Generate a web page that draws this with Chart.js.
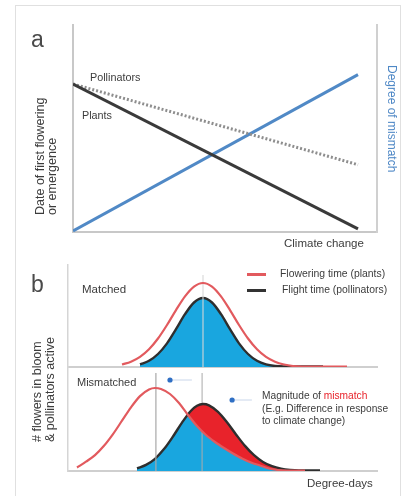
<!DOCTYPE html>
<html><head><meta charset="utf-8">
<script src="https://cdn.jsdelivr.net/npm/chart.js@4.4.0/dist/chart.umd.min.js"></script>
<style>
html,body{margin:0;padding:0;background:#fff;}
#wrap{position:relative;width:405px;height:496px;overflow:hidden;font-family:"Liberation Sans",Arial,sans-serif;color:#3c3c3c;}
#frame{position:absolute;left:15px;top:5px;width:386px;height:500px;border:1px solid #e0e0e0;box-sizing:border-box;}
canvas{position:absolute;left:0;}
.t{position:absolute;white-space:nowrap;}
.rot{position:absolute;white-space:nowrap;transform-origin:0 0;}
.leg{position:absolute;height:3px;width:19px;}
</style></head><body>
<div id="wrap">
<div id="frame"></div>
<canvas id="ca" width="405" height="250" style="top:0"></canvas>
<canvas id="cb1" width="405" height="115" style="top:255px"></canvas>
<canvas id="cb2" width="405" height="136" style="top:360px"></canvas>
<div class="leg" style="left:247px;top:273px;background:#e25a5e"></div>
<div class="leg" style="left:247px;top:289px;background:#333"></div>
<div class="rot" style="left:34px;top:215px;font-size:12.5px;line-height:12px;transform:rotate(-90deg)">Date of first flowering<br>or emergence</div>
<div class="rot" style="left:398px;top:65px;font-size:12px;line-height:12px;color:#4f88c6;transform:rotate(90deg)">Degree of mismatch</div>
<div class="rot" style="left:31px;top:442px;font-size:12.5px;line-height:13px;transform:rotate(-90deg)"># flowers in bloom<br>&amp; pollinators active</div>
</div>
<script>
// ---- Panel a: phenology vs climate change ----
const climateX = [0, 15];
const plantsDate = [71.5, 1.5];
const pollinatorsDate = [71.5, 32.5];
const mismatchDegree = [0.5, 76];

// ---- Panel b (matched) ----
const matchedRedX = [18,21,24,27,30,33,36,39,42,45,48,51,54,57,60,63,66,69,72,75,78,93];
const matchedRedY = [2.5,5.3,10.1,17.7,28.5,42.0,56.9,70.6,80.4,84,80.4,70.6,56.9,42.0,28.5,17.7,10.1,5.3,2.5,1.0,0.5,0.5];
const matchedBlackX = [24,27,30,33,36,39,42,45,48,51,54,57,60,63,66,69,72,85];
const matchedBlackY = [2.6,6.2,13.0,23.6,37.8,52.8,64.5,69,64.5,52.8,37.8,23.6,13.0,6.2,2.6,1.0,0.5,0.5];
const matchedPeakX = [45];
const matchedGuideTop = 92;

// ---- Panel b (mismatched) ----
const mismatchRedX = [3,6,9,12,15,18,21,24,27,29,31,34,37,40,43,46,49,52,55,58,61,64,67,70,73,79];
const mismatchRedY = [3.5,9.3,15.9,25.2,36.9,50.3,63.7,74.9,81.6,83,82,77,68,56,45,36,29,23,17.5,12.5,8.5,5.5,2.5,1.0,0.5,0.5];
const mismatchBlackX = [23,26,29,32,35,38,41,43,45,47,50,53,56,59,62,65,68,71,74,77,84];
const mismatchBlackY = [2.7,6.1,12.2,21.9,34.5,48.4,60.3,65.2,67,65.7,59.1,48.7,36.6,25.1,15.8,9.1,4.8,2.3,1.0,0.5,0.5];
const mismatchPeakX = [29.3, 44.7];
const mismatchGuideTop = 98;
const shiftArrowX = [34, 41.3];
const shiftArrowY = 91;
const magnitudeArrowX = [54.7, 61.3];
const magnitudeArrowY = 71;

// ---- labels ----
const texts = [
  ['a', 31, 47, 23, '#4a4a4a'],
  ['b', 31, 292, 23, '#4a4a4a'],
  ['Pollinators', 90, 81, 10.8],
  ['Plants', 82, 119, 10.8],
  ['Climate change', 284, 247.5, 11.5],
  ['Matched', 82, 294, 11.5],
  ['Mismatched', 77, 386, 11],
  ['Flowering time (plants)', 280, 277.5, 10.4],
  ['Flight time (pollinators)', 282, 294, 10.4],
  ['(E.g. Difference in response', 262, 412.5, 10.2],
  ['to climate change)', 262, 425, 10.2],
  ['Degree-days', 307, 488, 11.5]
];

const wrap = document.getElementById('wrap');
function addText(str, x, base, size, color, html) {
  const d = document.createElement('div');
  d.className = 't';
  d.style.left = x + 'px';
  d.style.fontSize = size + 'px';
  d.style.lineHeight = size + 'px';
  d.style.top = (base - 0.8465 * size) + 'px';
  if (color) d.style.color = color;
  if (html) d.innerHTML = html; else d.textContent = str;
  wrap.appendChild(d);
}
texts.forEach(t => addText(t[0], t[1], t[2], t[3], t[4]));
addText('', 262, 400, 10.2, null, 'Magnitude of <span style="color:#e8232b">mismatch</span>');

const pts = (xs, ys) => xs.map((x, i) => ({x, y: ys[i]}));
const vline = (x, top) => [{x, y: 0}, {x, y: top}];

function scale(opts, border) {
  return Object.assign({
    type: 'linear', display: true,
    grid: {display: false, drawTicks: false},
    ticks: {display: false},
    border: border ? {display: true, color: border.color, width: border.width} : {display: false}
  }, opts);
}
const common = {
  responsive: false, animation: false,
  plugins: {legend: {display: false}, tooltip: {enabled: false}},
  elements: {point: {radius: 0}, line: {borderCapStyle: 'butt'}}
};

const RED_LINE = '#e25a5e', BLACK_LINE = '#2e2e2e', BLUE_FILL = '#19a6df', RED_FILL = '#e8232b';

new Chart(document.getElementById('ca'), {
  type: 'line',
  data: {datasets: [
    {data: pts(climateX, plantsDate), borderColor: '#3a3a3a', borderWidth: 3, yAxisID: 'y'},
    {data: pts(climateX, pollinatorsDate), borderColor: '#8e8e8e', borderWidth: 3, borderDash: [2, 2], yAxisID: 'y'},
    {data: pts(climateX, mismatchDegree), borderColor: '#5089c6', borderWidth: 3, yAxisID: 'y2'}
  ]},
  options: Object.assign({}, common, {
    layout: {padding: {left: 73, right: 28, top: 25, bottom: 18}},
    scales: {
      x: scale({min: 0, max: 16, position: 'bottom'}, {color: '#c8c8c8', width: 2}),
      y: scale({min: 0, max: 100, position: 'left'}, {color: '#c8c8c8', width: 2}),
      y2: scale({min: 0, max: 100, position: 'right'}, {color: '#d0d0d0', width: 2})
    }
  })
});

new Chart(document.getElementById('cb1'), {
  type: 'line',
  data: {datasets: [
    {data: pts(matchedRedX, matchedRedY), borderColor: RED_LINE, borderWidth: 2.2, cubicInterpolationMode: 'monotone', fill: false, order: 0},
    {data: pts(matchedBlackX, matchedBlackY), borderColor: BLACK_LINE, borderWidth: 2.4, cubicInterpolationMode: 'monotone', fill: 'origin', backgroundColor: BLUE_FILL, order: 2},
    {data: vline(matchedPeakX[0], matchedGuideTop), borderColor: 'rgba(215,215,215,0.9)', borderWidth: 1.2, fill: false, order: 1}
  ]},
  options: Object.assign({}, common, {
    layout: {padding: {left: 68, right: 28, top: 10, bottom: 3}},
    scales: {
      x: scale({min: 0, max: 103, position: 'bottom'}, {color: '#cfcfcf', width: 2}),
      y: scale({min: 0, max: 102, position: 'left'}, {color: '#d5d5d5', width: 1.5})
    }
  })
});

new Chart(document.getElementById('cb2'), {
  type: 'line',
  data: {datasets: [
    {data: pts(mismatchRedX, mismatchRedY), borderColor: RED_LINE, borderWidth: 2.2, cubicInterpolationMode: 'monotone', fill: false, order: 0},
    {data: pts(mismatchBlackX, mismatchBlackY), borderColor: BLACK_LINE, borderWidth: 2.4, cubicInterpolationMode: 'monotone',
      fill: {target: 0, above: RED_FILL, below: 'rgba(0,0,0,0)'}, order: 3},
    {data: pts(mismatchBlackX, mismatchBlackY), borderWidth: 0, borderColor: 'rgba(0,0,0,0)', cubicInterpolationMode: 'monotone', fill: 'origin', backgroundColor: BLUE_FILL, order: 5},
    {data: vline(mismatchPeakX[0], mismatchGuideTop), borderColor: '#a8a8a8', borderWidth: 1.2, fill: false, order: 1},
    {data: vline(mismatchPeakX[1], mismatchGuideTop), borderColor: 'rgba(170,170,170,0.85)', borderWidth: 1.2, fill: false, order: 4},
    {data: pts(shiftArrowX, [shiftArrowY, shiftArrowY]), borderColor: '#c9d6ea', borderWidth: 1, pointRadius: [2.6, 0], pointBackgroundColor: '#2f6fc4', pointBorderWidth: 0, fill: false, order: 0},
    {data: pts(magnitudeArrowX, [magnitudeArrowY, magnitudeArrowY]), borderColor: '#c9d6ea', borderWidth: 1, pointRadius: [2.6, 0], pointBackgroundColor: '#2f6fc4', pointBorderWidth: 0, fill: false, order: 0}
  ]},
  options: Object.assign({}, common, {
    layout: {padding: {left: 68, right: 28, top: 7, bottom: 25}},
    scales: {
      x: scale({min: 0, max: 103, position: 'bottom'}, {color: '#cfcfcf', width: 2}),
      y: scale({min: 0, max: 104, position: 'left'}, {color: '#d5d5d5', width: 1.5})
    }
  })
});
</script>
</body></html>
